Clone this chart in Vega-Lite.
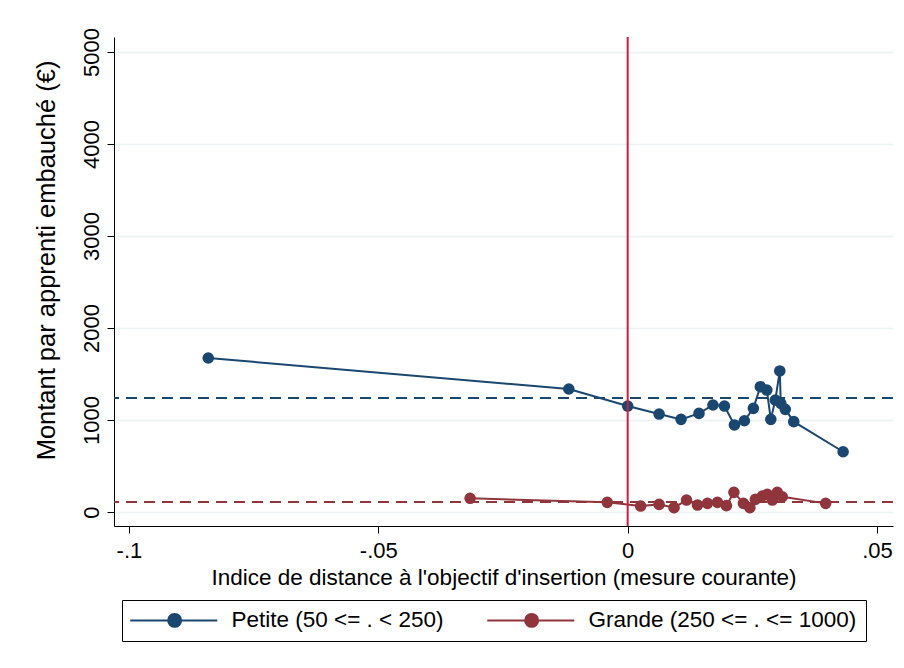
{
  "$schema": "https://vega.github.io/schema/vega-lite/v6.json",
  "autosize": {"type": "none"},
  "width": 779,
  "height": 489,
  "padding": {"left": 114, "top": 37, "right": 11, "bottom": 142},
  "background": "white",
  "config": {
    "view": {"stroke": null},
    "font": "Liberation Sans",
    "axis": {
      "labelFont": "Liberation Sans",
      "titleFont": "Liberation Sans",
      "labelFontSize": 22,
      "titleFontSize": 22.5,
      "titleFontWeight": "normal",
      "labelColor": "#000000",
      "titleColor": "#000000",
      "domainColor": "#000000",
      "tickColor": "#000000",
      "tickSize": 7,
      "domainWidth": 1,
      "tickWidth": 1
    },
    "legend": {
      "labelFont": "Liberation Sans",
      "labelFontSize": 22.5,
      "labelColor": "#000000",
      "labelLimit": 500
    }
  },
  "datasets": {
    "series": [
      {"groupe": "Petite (50 <= . < 250)", "indice": -0.0841, "montant": 1674},
      {"groupe": "Petite (50 <= . < 250)", "indice": -0.0118, "montant": 1337},
      {"groupe": "Petite (50 <= . < 250)", "indice": 0.0, "montant": 1152},
      {"groupe": "Petite (50 <= . < 250)", "indice": 0.0063, "montant": 1065},
      {"groupe": "Petite (50 <= . < 250)", "indice": 0.0107, "montant": 1007},
      {"groupe": "Petite (50 <= . < 250)", "indice": 0.0143, "montant": 1072},
      {"groupe": "Petite (50 <= . < 250)", "indice": 0.0171, "montant": 1163},
      {"groupe": "Petite (50 <= . < 250)", "indice": 0.0194, "montant": 1152},
      {"groupe": "Petite (50 <= . < 250)", "indice": 0.0214, "montant": 946},
      {"groupe": "Petite (50 <= . < 250)", "indice": 0.0234, "montant": 992},
      {"groupe": "Petite (50 <= . < 250)", "indice": 0.0252, "montant": 1127},
      {"groupe": "Petite (50 <= . < 250)", "indice": 0.0266, "montant": 1362},
      {"groupe": "Petite (50 <= . < 250)", "indice": 0.0279, "montant": 1326},
      {"groupe": "Petite (50 <= . < 250)", "indice": 0.0287, "montant": 1007},
      {"groupe": "Petite (50 <= . < 250)", "indice": 0.0296, "montant": 1217},
      {"groupe": "Petite (50 <= . < 250)", "indice": 0.0305, "montant": 1533},
      {"groupe": "Petite (50 <= . < 250)", "indice": 0.0307, "montant": 1181},
      {"groupe": "Petite (50 <= . < 250)", "indice": 0.0316, "montant": 1116},
      {"groupe": "Petite (50 <= . < 250)", "indice": 0.0333, "montant": 982},
      {"groupe": "Petite (50 <= . < 250)", "indice": 0.0432, "montant": 655},
      {"groupe": "Grande (250 <= . <= 1000)", "indice": -0.0316, "montant": 149},
      {"groupe": "Grande (250 <= . <= 1000)", "indice": -0.0041, "montant": 105},
      {"groupe": "Grande (250 <= . <= 1000)", "indice": 0.0026, "montant": 65},
      {"groupe": "Grande (250 <= . <= 1000)", "indice": 0.0063, "montant": 83},
      {"groupe": "Grande (250 <= . <= 1000)", "indice": 0.0093, "montant": 47},
      {"groupe": "Grande (250 <= . <= 1000)", "indice": 0.0118, "montant": 130},
      {"groupe": "Grande (250 <= . <= 1000)", "indice": 0.014, "montant": 76},
      {"groupe": "Grande (250 <= . <= 1000)", "indice": 0.016, "montant": 94},
      {"groupe": "Grande (250 <= . <= 1000)", "indice": 0.018, "montant": 105},
      {"groupe": "Grande (250 <= . <= 1000)", "indice": 0.0198, "montant": 69},
      {"groupe": "Grande (250 <= . <= 1000)", "indice": 0.0213, "montant": 214},
      {"groupe": "Grande (250 <= . <= 1000)", "indice": 0.0232, "montant": 94},
      {"groupe": "Grande (250 <= . <= 1000)", "indice": 0.0245, "montant": 47},
      {"groupe": "Grande (250 <= . <= 1000)", "indice": 0.0256, "montant": 138},
      {"groupe": "Grande (250 <= . <= 1000)", "indice": 0.027, "montant": 174},
      {"groupe": "Grande (250 <= . <= 1000)", "indice": 0.028, "montant": 192},
      {"groupe": "Grande (250 <= . <= 1000)", "indice": 0.029, "montant": 130},
      {"groupe": "Grande (250 <= . <= 1000)", "indice": 0.03, "montant": 214},
      {"groupe": "Grande (250 <= . <= 1000)", "indice": 0.031, "montant": 166},
      {"groupe": "Grande (250 <= . <= 1000)", "indice": 0.0397, "montant": 94}
    ],
    "moyennes": [
      {"groupe": "Petite (50 <= . < 250)", "moyenne": 1239},
      {"groupe": "Grande (250 <= . <= 1000)", "moyenne": 109}
    ],
    "seuil": [
      {"indice": 0}
    ]
  },
  "layer": [
    {
      "data": {"name": "series"},
      "mark": {"type": "line", "strokeWidth": 2},
      "encoding": {
        "x": {
          "field": "indice", "type": "quantitative",
          "scale": {"domain": [-0.103, 0.0532], "nice": false, "zero": false},
          "axis": {
            "title": "Indice de distance à l'objectif d'insertion (mesure courante)",
            "values": [-0.1, -0.05, 0, 0.05],
            "labelExpr": "(datum.value < 0 ? '-' : '') + replace(format(abs(datum.value), '.2~f'), '0.', '.')",
            "grid": false,
            "labelPadding": 7,
            "titlePadding": 5
          }
        },
        "y": {
          "field": "montant", "type": "quantitative",
          "scale": {"domain": [-152, 5163], "nice": false, "zero": false},
          "axis": {
            "title": "Montant par apprenti embauché (€)",
            "titleFontSize": 25.5,
            "titleX": -68,
            "titleY": 223,
            "titleAngle": -90,
            "titleAlign": "center",
            "titleBaseline": "middle",
            "values": [0, 1000, 2000, 3000, 4000, 5000],
            "format": "d",
            "labelAngle": -90,
            "labelAlign": "center",
            "labelBaseline": "bottom",
            "labelPadding": 4,
            "grid": true,
            "gridColor": "#eaf2f3",
            "gridWidth": 1.5
          }
        },
        "color": {
          "field": "groupe", "type": "nominal",
          "scale": {"domain": ["Petite (50 <= . < 250)", "Grande (250 <= . <= 1000)"], "range": ["#1a476f", "#90353b"]},
          "legend": {
            "title": null,
            "orient": "none",
            "legendX": 8,
            "legendY": 563,
            "direction": "horizontal",
            "columns": 2,
            "columnPadding": 39,
            "strokeColor": "#000000",
            "padding": 9,
            "symbolType": "M-2,0H4.32M6.48,0H12.5M4.32,0A1.08,1.08,0,1,1,6.48,0A1.08,1.08,0,1,1,4.32,0Z",
            "symbolSize": 144,
            "symbolStrokeWidth": 2,
            "labelOffset": 78
          }
        }
      }
    },
    {
      "data": {"name": "moyennes"},
      "mark": {"type": "rule", "strokeWidth": 2, "strokeDash": [11, 7]},
      "encoding": {
        "y": {"field": "moyenne", "type": "quantitative"},
        "color": {"field": "groupe", "type": "nominal"}
      }
    },
    {
      "data": {"name": "series"},
      "mark": {"type": "point", "filled": true, "opacity": 1, "size": 135},
      "encoding": {
        "x": {"field": "indice", "type": "quantitative"},
        "y": {"field": "montant", "type": "quantitative"},
        "color": {"field": "groupe", "type": "nominal"}
      }
    },
    {
      "data": {"name": "seuil"},
      "mark": {"type": "rule", "color": "#d01c3c", "strokeWidth": 2},
      "encoding": {
        "x": {"field": "indice", "type": "quantitative"}
      }
    }
  ]
}
